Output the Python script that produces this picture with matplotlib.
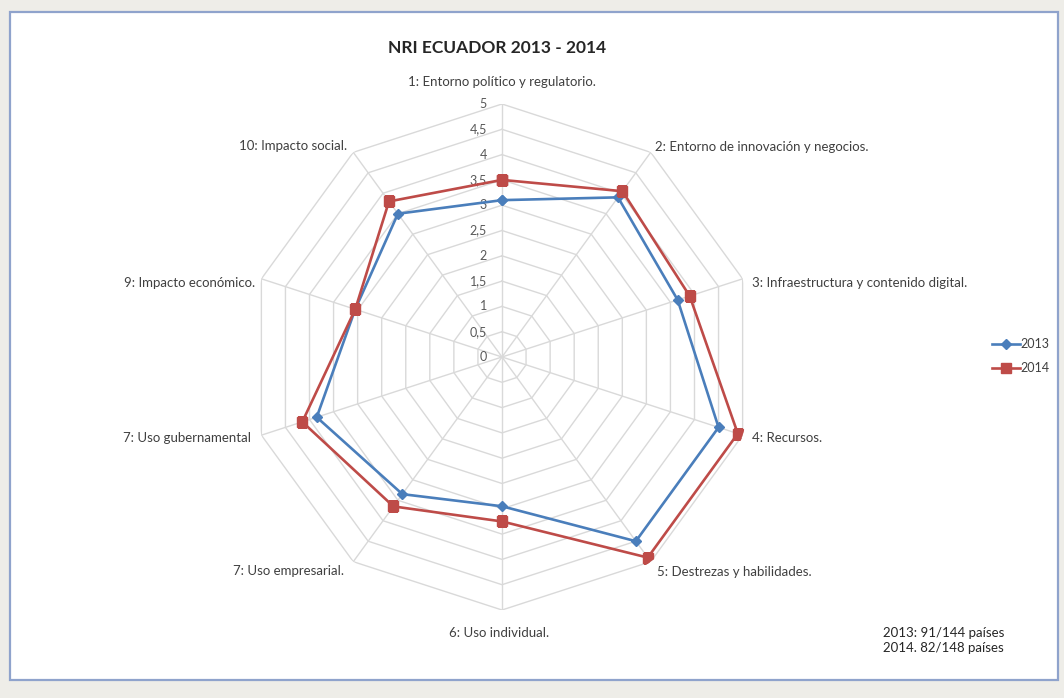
import numpy as np
import matplotlib
matplotlib.use("Agg")
import matplotlib.pyplot as plt
from matplotlib.patches import Rectangle

plt.rcParams["font.family"] = ["Lato", "DejaVu Sans"]

# Pillar labels, clockwise from the top
categories = [
    "1: Entorno político y regulatorio.",
    "2: Entorno de innovación y negocios.",
    "3: Infraestructura y contenido digital.",
    "4: Recursos.",
    "5: Destrezas y habilidades.",
    "6: Uso individual.",
    "7: Uso empresarial.",
    "7: Uso gubernamental",
    "9: Impacto económico.",
    "10: Impacto social.",
]
scores_2013 = [3.1, 3.9, 3.65, 4.5, 4.5, 2.95, 3.35, 3.85, 3.05, 3.5]
scores_2014 = [3.5, 4.05, 3.9, 4.9, 4.9, 3.25, 3.65, 4.15, 3.05, 3.8]
ring_values = [0.5, 1, 1.5, 2, 2.5, 3, 3.5, 4, 4.5, 5]
tick_labels = ["0", "0,5", "1", "1,5", "2", "2,5", "3", "3,5", "4", "4,5", "5"]
rankings = ["2013: 91/144 países", "2014. 82/148 países"]

BLUE = "#4a7ebb"
RED = "#be4b48"
GRID = "#d9d9d9"
TXT = "#404040"

W, H = 1064, 698
fig = plt.figure(figsize=(W / 100, H / 100), dpi=100)
fig.patch.set_facecolor("#eeede8")

# white chart area with its blue-grey border
fig.patches.append(Rectangle((10 / W, 1 - 680 / H), 1048 / W, 668 / H,
                             transform=fig.transFigure, facecolor="white",
                             edgecolor="#8fa3cc", linewidth=1.6, zorder=-5))

# polar axes centred at (502, 357) px with a 253 px radius
cx, cy, R = 502, 357, 253
ax = fig.add_axes([(cx - R) / W, (H - cy - R) / H, 2 * R / W, 2 * R / H],
                  projection="polar")
ax.set_zorder(2)
ax.set_theta_zero_location("N")
ax.set_theta_direction(-1)
ax.set_ylim(0, 5)
ax.grid(False)
ax.set_xticks([])
ax.set_yticks([])
ax.spines["polar"].set_visible(False)
ax.patch.set_alpha(0)

n = len(categories)
theta = np.arange(n) * 2 * np.pi / n
theta_closed = np.append(theta, theta[0])

# decagon rings and spokes
for r in ring_values:
    ax.plot(theta_closed, [r] * (n + 1), color=GRID, lw=1, zorder=1)
for t in theta:
    ax.plot([t, t], [0, 5], color=GRID, lw=1, zorder=1)

# value ticks along the top spoke
for i, lab in enumerate(tick_labels):
    ax.annotate(lab, (0, i * 0.5), xytext=(-15, 0), textcoords="offset pixels",
                ha="right", va="center", fontsize=9, color="#595959")

ax.plot(theta_closed, scores_2013 + scores_2013[:1], color=BLUE, lw=1.9,
        marker="D", ms=5.5, mfc=BLUE, mec=BLUE, label="2013", zorder=3)
ax.plot(theta_closed, scores_2014 + scores_2014[:1], color=RED, lw=1.9,
        marker="s", ms=7, mfc=RED, mec=RED, label="2014", zorder=4)

# category labels just outside the outer ring
offsets = [(0, 22, "center"), (4, 5, "left"), (9, -4, "left"), (9, -3, "left"),
           (6, -10, "left"), (-3, -23, "center"), (-9, -9, "right"),
           (-10, -3, "right"), (-6, -4, "right"), (-6, 6, "right")]
for t, lab, (dx, dy, ha) in zip(theta, categories, offsets):
    ax.annotate(lab, (t, 5), xytext=(dx, dy), textcoords="offset pixels",
                ha=ha, va="center", fontsize=9.5, color=TXT,
                annotation_clip=False)

fig.text(497 / W, 1 - 48 / H, "NRI ECUADOR 2013 - 2014", ha="center",
         va="center", fontsize=12.5, fontweight="bold", color="#262626")

fig.legend(loc="center left", bbox_to_anchor=(992 / W, 1 - 356 / H),
           frameon=False, fontsize=9, handlelength=2.2, handletextpad=0.1,
           borderpad=0, borderaxespad=0, labelspacing=0.95, labelcolor=TXT)

for k, line in enumerate(rankings):
    fig.text(883 / W, 1 - (633 + 15 * k) / H, line, ha="left", va="center",
             fontsize=9.5, color="#262626")

fig.savefig("out.png", dpi=100)
